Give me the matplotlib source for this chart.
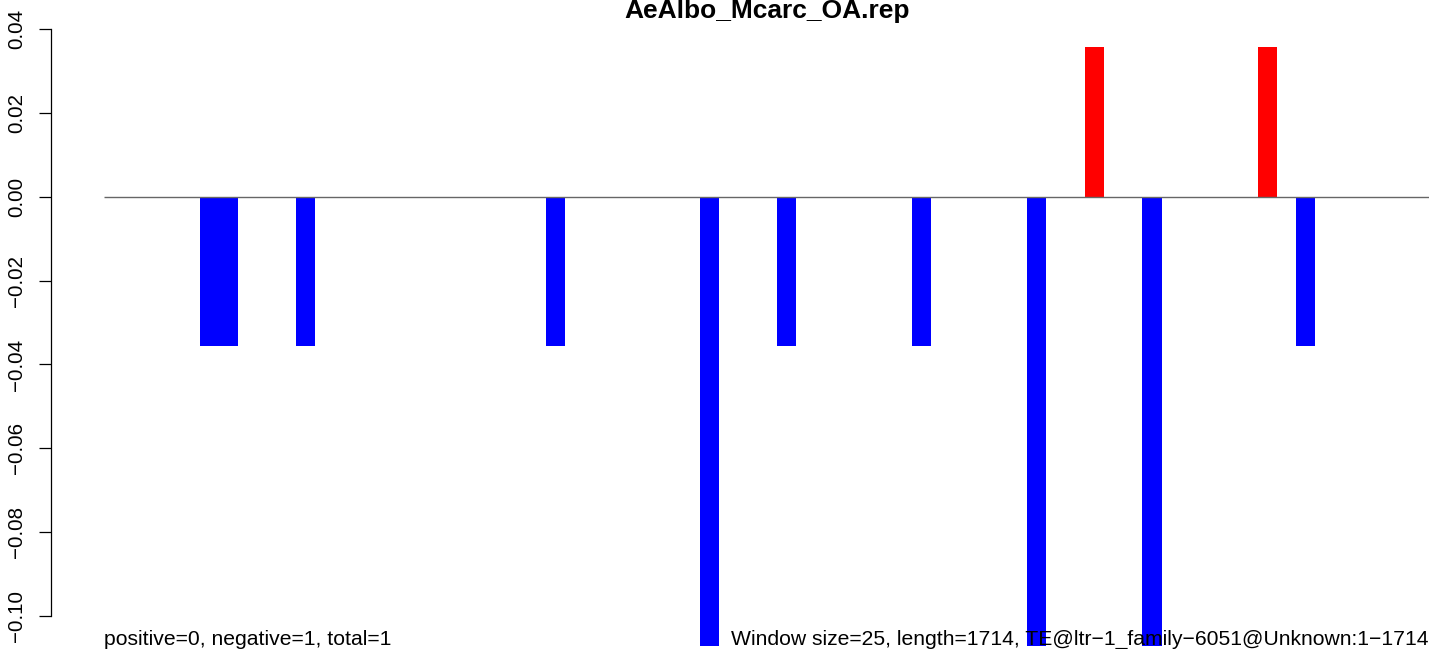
import matplotlib
matplotlib.use("Agg")
import matplotlib.pyplot as plt
import matplotlib.transforms as mtransforms

plt.rcParams['font.family'] = ['Liberation Sans', 'DejaVu Sans']

title = "AeAlbo_Mcarc_OA.rep"
left_note = "positive=0, negative=1, total=1"
right_note = "Window size=25, length=1714, TE@ltr\u22121_family\u22126051@Unknown:1\u22121714"

n_windows = 69
window_index = [5, 6, 10, 23, 31, 35, 42, 48, 51, 54, 60, 62]
window_score = [-0.0357, -0.0357, -0.0357, -0.0357, -0.1071, -0.0357,
                -0.0357, -0.1071, 0.0357, -0.1071, 0.0357, -0.0357]
y_ticks = [-0.10, -0.08, -0.06, -0.04, -0.02, 0.00, 0.02, 0.04]

W, H = 1429, 649
fig = plt.figure(figsize=(W / 100, H / 100), dpi=100)

# R-style 4% extension on both axes
ext = 0.04 * n_windows
ymin, ymax = -0.1129, 0.0414
ax_left, ax_right = 50.5, 1484
ax_top, ax_bottom = 23.4, 669.9
ax = fig.add_axes([ax_left / W, (H - ax_bottom) / H,
                   (ax_right - ax_left) / W, (ax_bottom - ax_top) / H])
ax.set_xlim(-ext, n_windows + ext)
ax.set_ylim(ymin, ymax)

colors = ['#FF0000' if v > 0 else '#0000FF' for v in window_score]
ax.bar(window_index, window_score, width=1.0, align='edge', color=colors,
       linewidth=0, zorder=2)
ax.hlines(0, 0, n_windows, color='#666666', linewidth=1.0, zorder=3)

for s in ['top', 'right', 'bottom']:
    ax.spines[s].set_visible(False)
ax.spines['left'].set_bounds(y_ticks[0], y_ticks[-1])
ax.spines['left'].set_linewidth(0.9)
ax.set_xticks([])
ax.set_yticks(y_ticks)
ax.set_yticklabels([f"{t:.2f}".replace('-', '\u2212') for t in y_ticks],
                   rotation=90, va='center', fontsize=14.8)
ax.tick_params(axis='y', length=8.6, width=0.9, pad=9)

ax.set_title(title, fontsize=19, fontweight='bold', pad=2.5)

trans = mtransforms.blended_transform_factory(ax.transData, fig.transFigure)
ax.text(0, 1 - 645 / H, left_note, transform=trans, ha='left',
        va='baseline', fontsize=15.2, zorder=4)
ax.text(n_windows - 0.15, 1 - 645 / H, right_note, transform=trans,
        ha='right', va='baseline', fontsize=15.2, zorder=4)

fig.savefig("out.png", dpi=100)
